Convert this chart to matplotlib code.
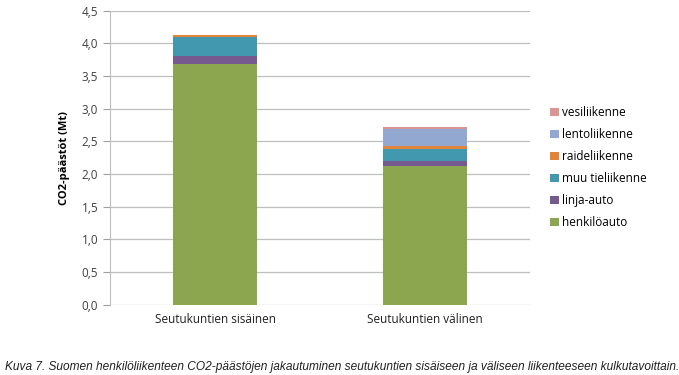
import matplotlib
matplotlib.use("Agg")
import matplotlib.pyplot as plt
import numpy as np

categories = ["Seutukuntien sisäinen", "Seutukuntien välinen"]
series_names = ["henkilöauto", "linja-auto", "muu tieliikenne", "raideliikenne", "lentoliikenne", "vesiliikenne"]
henkiloauto = [3.68, 2.12]
linja_auto = [0.13, 0.08]
muu_tieliikenne = [0.28, 0.18]
raideliikenne = [0.03, 0.05]
lentoliikenne = [0.00, 0.26]
vesiliikenne = [0.00, 0.03]
yticks = [0.0, 0.5, 1.0, 1.5, 2.0, 2.5, 3.0, 3.5, 4.0, 4.5]
colors = ["#8BA64E", "#76598F", "#4298AE", "#E2843A", "#93A8D0", "#D99594"]

series = [henkiloauto, linja_auto, muu_tieliikenne, raideliikenne, lentoliikenne, vesiliikenne]

fig = plt.figure(figsize=(6.79, 3.75), dpi=100)
ax = fig.add_axes([0.162, 0.187, 0.619, 0.785])
x = np.arange(len(categories))
bottom = np.zeros(len(categories))
handles = []
for name, vals, c in zip(series_names, series, colors):
    h = ax.bar(x, vals, 0.4, bottom=bottom, color=c, label=name, zorder=3)
    handles.append(h)
    bottom += np.array(vals)

ax.set_xlim(-0.5, 1.5)
ax.set_ylim(0, 4.5)
ax.set_yticks(yticks)
ax.set_yticklabels([f"{v:.1f}".replace(".", ",") for v in yticks], fontsize=8.5, color="#404040", family="Open Sans")
ax.set_xticks(x)
ax.set_xticklabels(categories, fontsize=8.5, color="#202020", family="Open Sans")
ax.tick_params(axis="x", length=0, pad=6)
ax.tick_params(axis="y", length=5, color="#A0A0A0", width=0.8)
ax.yaxis.grid(True, color="#BFBFBF", linewidth=0.9, zorder=0)
for s in ["top", "right", "bottom"]:
    ax.spines[s].set_visible(False)
ax.spines["left"].set_color("#BFBFBF")
ax.set_ylabel("CO2-päästöt (Mt)", fontsize=8, fontweight="bold", family="Open Sans", labelpad=8)

leg = fig.legend(handles[::-1], series_names[::-1], loc="upper left", bbox_to_anchor=(0.795, 0.746),
                 frameon=False, handlelength=0.7, handleheight=0.7, handletextpad=0.3,
                 labelspacing=0.77, prop={"family": "Open Sans", "size": 8.5})

fig.text(0.008, 0.013, "Kuva 7. Suomen henkilöliikenteen CO2-päästöjen jakautuminen seutukuntien sisäiseen ja väliseen liikenteeseen kulkutavoittain.",
         fontsize=8.6, style="italic", family="Liberation Sans", color="#202020")

fig.savefig("out.png", dpi=100)
